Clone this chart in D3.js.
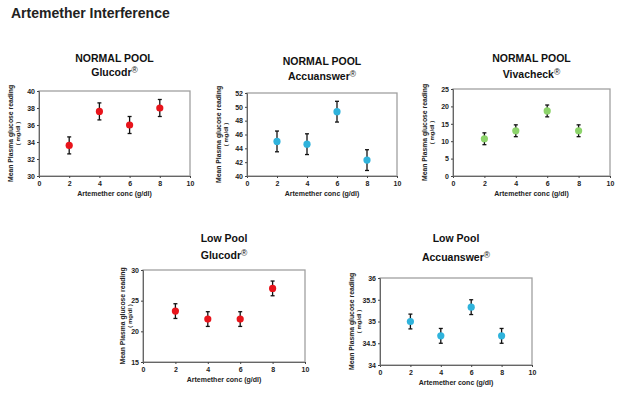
<!DOCTYPE html>
<html><head><meta charset="utf-8">
<script src="https://cdn.jsdelivr.net/npm/d3@7"></script>
<style>
body{margin:0;background:#fff;}
svg{display:block;font-family:"Liberation Sans",Arial,sans-serif;}
</style></head>
<body><svg id="c" width="626" height="396"></svg>
<script>
const concentrations = [2, 4, 6, 8];
const xTicks = [0, 2, 4, 6, 8, 10];

const normalGlucodr = [33.6, 37.6, 36.0, 38.0];
const normalGlucodrErr = [1.0, 1.0, 1.0, 1.0];
const normalAccu = [45.0, 44.6, 49.3, 42.3];
const normalAccuErr = [1.5, 1.5, 1.5, 1.5];
const normalViva = [10.7, 13.0, 18.7, 13.0];
const normalVivaErr = [1.7, 1.7, 1.7, 1.7];
const lowGlucodr = [23.3, 22.0, 22.0, 27.0];
const lowGlucodrErr = [1.2, 1.2, 1.2, 1.2];
const lowAccu = [35.0, 34.67, 35.33, 34.67];
const lowAccuErr = [0.17, 0.17, 0.17, 0.17];

const yTicksNG = [30, 32, 34, 36, 38, 40];
const yTicksNA = [40, 42, 44, 46, 48, 50, 52];
const yTicksNV = [0, 5, 10, 15, 20, 25];
const yTicksLG = [15, 20, 25, 30];
const yTicksLA = [34, 34.5, 35, 35.5, 36];

const panels = [
  {t1:"NORMAL POOL", t2:"Glucodr", vals:normalGlucodr, err:normalGlucodrErr, yt:yTicksNG, color:"#e8141b",
   x0:39, x1:190, y0:91, y1:176, t1y:62, t2y:76, ytx:13},
  {t1:"NORMAL POOL", t2:"Accuanswer", vals:normalAccu, err:normalAccuErr, yt:yTicksNA, color:"#2fb3dc",
   x0:247, x1:397, y0:93, y1:176, t1y:65, t2y:80, ytx:221},
  {t1:"NORMAL POOL", t2:"Vivacheck", vals:normalViva, err:normalVivaErr, yt:yTicksNV, color:"#8cd36a",
   x0:453, x1:610, y0:89, y1:176, t1y:62, t2y:78, ytx:427},
  {t1:"Low Pool", t2:"Glucodr", vals:lowGlucodr, err:lowGlucodrErr, yt:yTicksLG, color:"#e8141b",
   x0:143, x1:305, y0:270, y1:362, t1y:242, t2y:259, ytx:125},
  {t1:"Low Pool", t2:"Accuanswer", vals:lowAccu, err:lowAccuErr, yt:yTicksLA, color:"#2fb3dc",
   x0:380, x1:532, y0:278, y1:365, t1y:242, t2y:261, ytx:354}
];

const svg = d3.select("#c");
svg.append("text").attr("x",11).attr("y",18).attr("font-size",14).attr("font-weight","bold")
  .attr("fill","#222").text("Artemether Interference");

panels.forEach(p => {
  const g = svg.append("g");
  const x = d3.scaleLinear().domain([0,10]).range([p.x0,p.x1]);
  const y = d3.scaleLinear().domain([p.yt[0], p.yt[p.yt.length-1]]).range([p.y1,p.y0]);
  const cx = (p.x0+p.x1)/2;
  g.append("text").attr("x",cx).attr("y",p.t1y).attr("text-anchor","middle")
    .attr("font-size",10.5).attr("font-weight","bold").attr("fill","#111").text(p.t1);
  const t2 = g.append("text").attr("x",cx).attr("y",p.t2y).attr("text-anchor","middle")
    .attr("font-size",10.5).attr("font-weight","bold").attr("fill","#111");
  t2.append("tspan").text(p.t2);
  t2.append("tspan").attr("dy",-3).attr("font-size",8.5).attr("font-weight","normal").text("®");

  g.append("rect").attr("x",p.x0).attr("y",p.y0).attr("width",p.x1-p.x0).attr("height",p.y1-p.y0)
    .attr("fill","none").attr("stroke","#a0a0a0").attr("stroke-width",1.3);

  const xa = g.append("g").attr("transform",`translate(0,${p.y1})`)
    .call(d3.axisBottom(x).tickValues(xTicks).tickSize(2).tickPadding(3));
  const ya = g.append("g").attr("transform",`translate(${p.x0},0)`)
    .call(d3.axisLeft(y).tickValues(p.yt).tickSize(2).tickPadding(2).tickFormat(d3.format("~g")));
  [xa,ya].forEach(a=>{
    a.select(".domain").attr("stroke","#666");
    a.selectAll("line").attr("stroke","#444");
    a.selectAll("text").attr("font-size",7).attr("font-weight","bold").attr("fill","#222")
      .attr("font-family","'Liberation Sans',Arial,sans-serif");
  });

  g.append("text").attr("x",cx).attr("y",p.y1+20).attr("text-anchor","middle")
    .attr("font-size",7).attr("font-weight","bold").attr("fill","#222").text("Artemether conc (g/dl)");

  const ym = (p.y0+p.y1)/2;
  g.append("text").attr("transform",`translate(${p.ytx},${ym}) rotate(-90)`).attr("text-anchor","middle")
    .attr("font-size",6.8).attr("font-weight","bold").attr("fill","#222").text("Mean  Plasma glucose reading");
  g.append("text").attr("transform",`translate(${p.ytx+7},${ym}) rotate(-90)`).attr("text-anchor","middle")
    .attr("font-size",6).attr("font-weight","bold").attr("fill","#222").text("( mg/dl )");

  const pts = concentrations.map((c,i)=>({c, v:p.vals[i], e:p.err[i]}));
  const eb = g.selectAll(".eb").data(pts).enter().append("g");
  eb.append("line").attr("x1",d=>x(d.c)).attr("x2",d=>x(d.c)).attr("y1",d=>y(d.v-d.e)).attr("y2",d=>y(d.v+d.e))
    .attr("stroke","#111").attr("stroke-width",1.3);
  eb.append("line").attr("x1",d=>x(d.c)-2).attr("x2",d=>x(d.c)+2).attr("y1",d=>y(d.v+d.e)).attr("y2",d=>y(d.v+d.e))
    .attr("stroke","#111").attr("stroke-width",1.3);
  eb.append("line").attr("x1",d=>x(d.c)-2).attr("x2",d=>x(d.c)+2).attr("y1",d=>y(d.v-d.e)).attr("y2",d=>y(d.v-d.e))
    .attr("stroke","#111").attr("stroke-width",1.3);
  eb.append("circle").attr("cx",d=>x(d.c)).attr("cy",d=>y(d.v)).attr("r",3.6).attr("fill",p.color);
});
</script></body></html>
